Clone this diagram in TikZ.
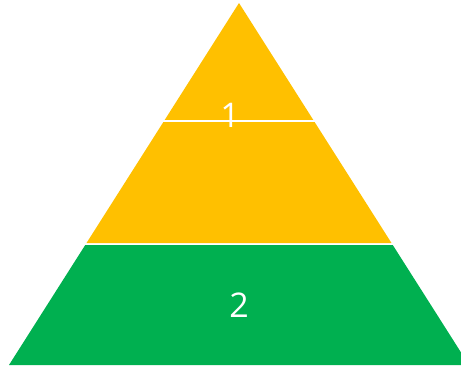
\documentclass[tikz,border=0pt]{standalone}
\usepackage{fontspec}
\setmainfont{Open Sans}
\usetikzlibrary{calc}
\definecolor{tierYellow}{HTML}{FFC000}
\definecolor{tierGreen}{HTML}{00B050}

\begin{document}
\begin{tikzpicture}[
  x=1pt, y=-1pt,
  tier/.style={draw=none},
  upper/.style={tier, fill=tierYellow},
  lower/.style={tier, fill=tierGreen},
  split/.style={draw=white, line width=2pt},
  lbl/.style={font=\fontsize{34}{34}\selectfont, text=white, inner sep=0pt}
]
\useasboundingbox (0,0) rectangle (461,368);
\clip (0,0) rectangle (461,368);

% Pyramid outline: apex and the two base corners (base runs past the right edge).
\coordinate (apex) at (239,3);
\coordinate (bl)   at (9,365);
\coordinate (br)   at (469,365);

% Band boundaries, taken as fractions of the height along each side.
\coordinate (ybl) at ($(apex)!0.6630!(bl)$);
\coordinate (ybr) at ($(apex)!0.6630!(br)$);
\coordinate (gtl) at ($(apex)!0.6685!(bl)$);
\coordinate (gtr) at ($(apex)!0.6685!(br)$);

% Yellow top part and green base part, with a thin white gap between them.
\fill[upper] (apex) -- (ybr) -- (ybl) -- cycle;
\fill[lower] (gtl) -- (gtr) -- (br) -- (bl) -- cycle;

% White divider across the yellow part.
\coordinate (sl) at (162,121);
\coordinate (sr) at (317,121);
\draw[split] (sl) -- (sr);

\node[lbl] (one) at (230,115) {1};
\node[lbl] (two) at (239,305) {2};
\end{tikzpicture}
\end{document}
